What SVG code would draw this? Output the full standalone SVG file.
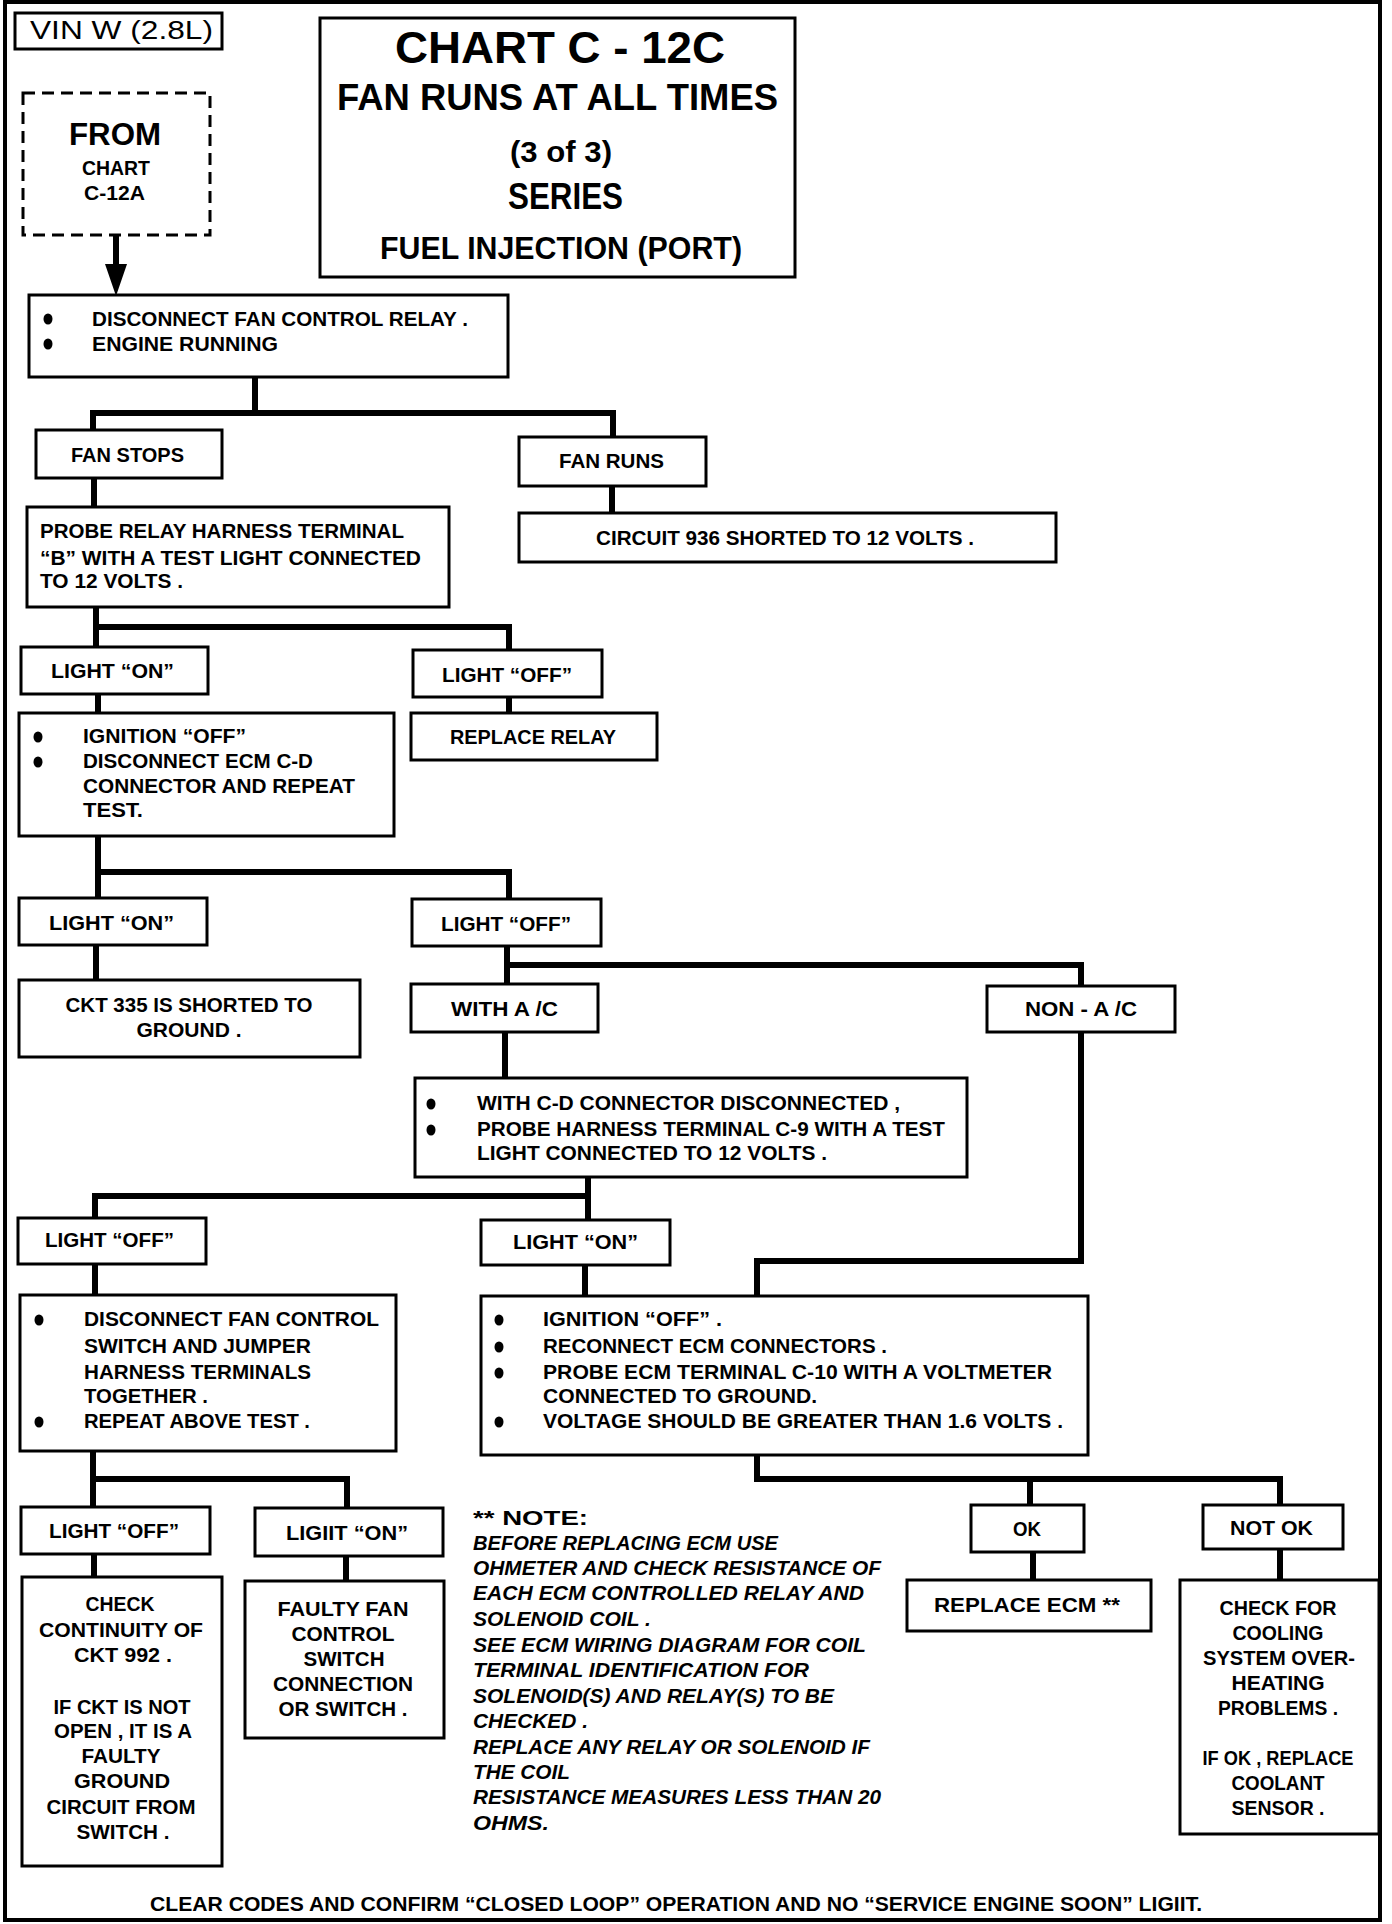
<svg xmlns="http://www.w3.org/2000/svg" width="1392" height="1924" viewBox="0 0 1392 1924">
<style>
.frame{fill:none;stroke:#000;stroke-width:4}
.b{fill:#fff;stroke:#000;stroke-width:3}
.d{fill:#fff;stroke:#000;stroke-width:3;stroke-dasharray:12 7}
.c{fill:none;stroke:#000;stroke-width:6;stroke-linejoin:miter;stroke-linecap:square}
.t{font-family:'Liberation Sans',Arial,sans-serif;font-weight:bold;font-size:21px;fill:#000}
.m{text-anchor:middle}
.i{font-style:italic}
.r{font-family:'Liberation Sans',Arial,sans-serif;font-weight:normal;font-size:26px;fill:#000}
.bul{fill:#000}
</style>
<defs>
<marker id="ah" viewBox="0 0 22 30" refX="11" refY="30" markerWidth="22" markerHeight="30" markerUnits="userSpaceOnUse" orient="auto-start-reverse">
<path d="M0,0 L22,0 L11,30 Z" fill="#000" transform="rotate(0)"/>
</marker>
</defs>
<rect x="0" y="0" width="1392" height="1924" fill="#fff"/>
<rect class="frame" x="5" y="2" width="1375" height="1918"/>

<g id="connectors">
<path class="c" d="M116,236 V266" stroke-linecap="butt"/>
<path d="M105,264 L127,264 L116,296 Z" fill="#000"/>
<path class="c" d="M255,377 V413"/>
<path class="c" d="M93,430 V413 H613 V437"/>
<path class="c" d="M94,478 V507"/>
<path class="c" d="M612,486 V513"/>
<path class="c" d="M96,607 V647"/>
<path class="c" d="M96,627 H509 V650"/>
<path class="c" d="M509,697 V713"/>
<path class="c" d="M98,694 V713"/>
<path class="c" d="M98,836 V898"/>
<path class="c" d="M98,872 H509 V899"/>
<path class="c" d="M96,945 V980"/>
<path class="c" d="M507,946 V984"/>
<path class="c" d="M507,965 H1081 V986"/>
<path class="c" d="M505,1032 V1078"/>
<path class="c" d="M588,1177 V1220"/>
<path class="c" d="M95,1218 V1196 H588"/>
<path class="c" d="M95,1264 V1295"/>
<path class="c" d="M585,1265 V1296"/>
<path class="c" d="M1081,1032 V1261 H757 V1296"/>
<path class="c" d="M93,1451 V1507"/>
<path class="c" d="M93,1479 H347 V1508"/>
<path class="c" d="M94,1554 V1577"/>
<path class="c" d="M346,1556 V1581"/>
<path class="c" d="M757,1455 V1479 H1280 V1505"/>
<path class="c" d="M1030,1479 V1505"/>
<path class="c" d="M1033,1552 V1580"/>
<path class="c" d="M1280,1549 V1580"/>
</g>

<g id="vin">
<rect class="b" x="15" y="13" width="207" height="36"/>
<text class="r" x="30" y="39" textLength="183" lengthAdjust="spacingAndGlyphs">VIN W (2.8L)</text>
</g>

<g id="title">
<rect class="b" x="320" y="18" width="475" height="259"/>
<text class="t" style="font-size:45px" x="395" y="63" textLength="330" lengthAdjust="spacingAndGlyphs">CHART C - 12C</text>
<text class="t" style="font-size:36px" x="337" y="110" textLength="441" lengthAdjust="spacingAndGlyphs">FAN RUNS AT ALL TIMES</text>
<text class="t" style="font-size:30px" x="510" y="162" textLength="102" lengthAdjust="spacingAndGlyphs">(3 of 3)</text>
<text class="t" style="font-size:36px" x="508" y="209" textLength="115" lengthAdjust="spacingAndGlyphs">SERIES</text>
<text class="t" style="font-size:32px" x="380" y="259" textLength="362" lengthAdjust="spacingAndGlyphs">FUEL INJECTION (PORT)</text>
</g>

<g id="from">
<rect class="d" x="23" y="93" width="187" height="142"/>
<text class="t" style="font-size:32px" x="69" y="145" textLength="92" lengthAdjust="spacingAndGlyphs">FROM</text>
<text class="t" x="82" y="175" textLength="68" lengthAdjust="spacingAndGlyphs">CHART</text>
<text class="t" x="84" y="200" textLength="61" lengthAdjust="spacingAndGlyphs">C-12A</text>
</g>

<g id="disconnect-relay">
<rect class="b" x="29" y="295" width="479" height="82"/>
<ellipse class="bul" cx="48" cy="319" rx="4.5" ry="5.5"/>
<ellipse class="bul" cx="48" cy="344" rx="4.5" ry="5.5"/>
<text class="t" x="92" y="326" textLength="376" lengthAdjust="spacingAndGlyphs">DISCONNECT FAN CONTROL RELAY .</text>
<text class="t" x="92" y="351" textLength="186" lengthAdjust="spacingAndGlyphs">ENGINE RUNNING</text>
</g>

<g id="fan-stops">
<rect class="b" x="36" y="430" width="186" height="48"/>
<text class="t" x="71" y="462" textLength="113" lengthAdjust="spacingAndGlyphs">FAN STOPS</text>
</g>

<g id="fan-runs">
<rect class="b" x="519" y="437" width="187" height="49"/>
<text class="t" x="559" y="468" textLength="105" lengthAdjust="spacingAndGlyphs">FAN RUNS</text>
</g>

<g id="probe-relay">
<rect class="b" x="27" y="507" width="422" height="100"/>
<text class="t" x="40" y="538" textLength="364" lengthAdjust="spacingAndGlyphs">PROBE RELAY HARNESS TERMINAL</text>
<text class="t" x="40" y="565" textLength="381" lengthAdjust="spacingAndGlyphs">“B” WITH A TEST LIGHT CONNECTED</text>
<text class="t" x="40" y="588" textLength="143" lengthAdjust="spacingAndGlyphs">TO 12 VOLTS .</text>
</g>

<g id="circuit-936">
<rect class="b" x="519" y="513" width="537" height="49"/>
<text class="t" x="596" y="545" textLength="378" lengthAdjust="spacingAndGlyphs">CIRCUIT 936 SHORTED TO 12 VOLTS .</text>
</g>

<g id="light-on-1">
<rect class="b" x="21" y="647" width="187" height="47"/>
<text class="t" x="51" y="678" textLength="123" lengthAdjust="spacingAndGlyphs">LIGHT “ON”</text>
</g>

<g id="light-off-1">
<rect class="b" x="413" y="650" width="189" height="47"/>
<text class="t" x="442" y="682" textLength="130" lengthAdjust="spacingAndGlyphs">LIGHT “OFF”</text>
</g>

<g id="ignition-off-1">
<rect class="b" x="19" y="713" width="375" height="123"/>
<ellipse class="bul" cx="38" cy="737" rx="4.5" ry="5.5"/>
<ellipse class="bul" cx="38" cy="762" rx="4.5" ry="5.5"/>
<text class="t" x="83" y="743" textLength="163" lengthAdjust="spacingAndGlyphs">IGNITION “OFF”</text>
<text class="t" x="83" y="768" textLength="230" lengthAdjust="spacingAndGlyphs">DISCONNECT ECM C-D</text>
<text class="t" x="83" y="793" textLength="272" lengthAdjust="spacingAndGlyphs">CONNECTOR AND REPEAT</text>
<text class="t" x="83" y="817" textLength="60" lengthAdjust="spacingAndGlyphs">TEST.</text>
</g>

<g id="replace-relay">
<rect class="b" x="411" y="713" width="246" height="47"/>
<text class="t" x="450" y="744" textLength="166" lengthAdjust="spacingAndGlyphs">REPLACE RELAY</text>
</g>

<g id="light-on-2">
<rect class="b" x="19" y="898" width="188" height="47"/>
<text class="t" x="49" y="930" textLength="125" lengthAdjust="spacingAndGlyphs">LIGHT “ON”</text>
</g>

<g id="light-off-2">
<rect class="b" x="412" y="899" width="189" height="47"/>
<text class="t" x="441" y="931" textLength="130" lengthAdjust="spacingAndGlyphs">LIGHT “OFF”</text>
</g>

<g id="ckt-335">
<rect class="b" x="19" y="980" width="341" height="77"/>
<text class="t m" x="189" y="1012" textLength="247" lengthAdjust="spacingAndGlyphs">CKT 335 IS SHORTED TO</text>
<text class="t m" x="189" y="1037" textLength="105" lengthAdjust="spacingAndGlyphs">GROUND .</text>
</g>

<g id="with-ac">
<rect class="b" x="411" y="984" width="187" height="48"/>
<text class="t" x="451" y="1016" textLength="107" lengthAdjust="spacingAndGlyphs">WITH A /C</text>
</g>

<g id="non-ac">
<rect class="b" x="987" y="986" width="188" height="46"/>
<text class="t" x="1025" y="1016" textLength="112" lengthAdjust="spacingAndGlyphs">NON - A /C</text>
</g>

<g id="cd-disconnected">
<rect class="b" x="415" y="1078" width="552" height="99"/>
<ellipse class="bul" cx="431" cy="1104" rx="4.5" ry="5.5"/>
<ellipse class="bul" cx="431" cy="1130" rx="4.5" ry="5.5"/>
<text class="t" x="477" y="1110" textLength="423" lengthAdjust="spacingAndGlyphs">WITH C-D CONNECTOR DISCONNECTED ,</text>
<text class="t" x="477" y="1136" textLength="468" lengthAdjust="spacingAndGlyphs">PROBE HARNESS TERMINAL C-9 WITH A TEST</text>
<text class="t" x="477" y="1160" textLength="350" lengthAdjust="spacingAndGlyphs">LIGHT CONNECTED TO 12 VOLTS .</text>
</g>

<g id="light-off-3">
<rect class="b" x="18" y="1218" width="188" height="46"/>
<text class="t" x="45" y="1247" textLength="129" lengthAdjust="spacingAndGlyphs">LIGHT “OFF”</text>
</g>

<g id="light-on-3">
<rect class="b" x="481" y="1220" width="189" height="45"/>
<text class="t" x="513" y="1249" textLength="125" lengthAdjust="spacingAndGlyphs">LIGHT “ON”</text>
</g>

<g id="disconnect-switch">
<rect class="b" x="20" y="1295" width="376" height="156"/>
<ellipse class="bul" cx="39" cy="1320" rx="4.5" ry="5.5"/>
<ellipse class="bul" cx="39" cy="1422" rx="4.5" ry="5.5"/>
<text class="t" x="84" y="1326" textLength="295" lengthAdjust="spacingAndGlyphs">DISCONNECT FAN CONTROL</text>
<text class="t" x="84" y="1353" textLength="227" lengthAdjust="spacingAndGlyphs">SWITCH AND JUMPER</text>
<text class="t" x="84" y="1379" textLength="227" lengthAdjust="spacingAndGlyphs">HARNESS TERMINALS</text>
<text class="t" x="84" y="1403" textLength="124" lengthAdjust="spacingAndGlyphs">TOGETHER .</text>
<text class="t" x="84" y="1428" textLength="226" lengthAdjust="spacingAndGlyphs">REPEAT ABOVE TEST .</text>
</g>

<g id="ignition-off-2">
<rect class="b" x="481" y="1296" width="607" height="159"/>
<ellipse class="bul" cx="499" cy="1320" rx="4.5" ry="5.5"/>
<ellipse class="bul" cx="499" cy="1347" rx="4.5" ry="5.5"/>
<ellipse class="bul" cx="499" cy="1373" rx="4.5" ry="5.5"/>
<ellipse class="bul" cx="499" cy="1422" rx="4.5" ry="5.5"/>
<text class="t" x="543" y="1326" textLength="179" lengthAdjust="spacingAndGlyphs">IGNITION “OFF” .</text>
<text class="t" x="543" y="1353" textLength="344" lengthAdjust="spacingAndGlyphs">RECONNECT ECM CONNECTORS .</text>
<text class="t" x="543" y="1379" textLength="509" lengthAdjust="spacingAndGlyphs">PROBE ECM TERMINAL C-10 WITH A VOLTMETER</text>
<text class="t" x="543" y="1403" textLength="274" lengthAdjust="spacingAndGlyphs">CONNECTED TO GROUND.</text>
<text class="t" x="543" y="1428" textLength="520" lengthAdjust="spacingAndGlyphs">VOLTAGE SHOULD BE GREATER THAN 1.6 VOLTS .</text>
</g>

<g id="light-off-4">
<rect class="b" x="21" y="1507" width="189" height="47"/>
<text class="t" x="49" y="1538" textLength="130" lengthAdjust="spacingAndGlyphs">LIGHT “OFF”</text>
</g>

<g id="light-on-4">
<rect class="b" x="255" y="1508" width="188" height="48"/>
<text class="t" x="286" y="1540" textLength="122" lengthAdjust="spacingAndGlyphs">LIGIIT “ON”</text>
</g>

<g id="check-continuity">
<rect class="b" x="22" y="1577" width="200" height="289"/>
<text class="t m" x="120" y="1611" textLength="69" lengthAdjust="spacingAndGlyphs">CHECK</text>
<text class="t m" x="121" y="1637" textLength="164" lengthAdjust="spacingAndGlyphs">CONTINUITY OF</text>
<text class="t m" x="123" y="1662" textLength="98" lengthAdjust="spacingAndGlyphs">CKT 992 .</text>
<text class="t m" x="122" y="1714" textLength="137" lengthAdjust="spacingAndGlyphs">IF CKT IS NOT</text>
<text class="t m" x="123" y="1738" textLength="138" lengthAdjust="spacingAndGlyphs">OPEN , IT IS A</text>
<text class="t m" x="121" y="1763" textLength="79" lengthAdjust="spacingAndGlyphs">FAULTY</text>
<text class="t m" x="122" y="1788" textLength="96" lengthAdjust="spacingAndGlyphs">GROUND</text>
<text class="t m" x="121" y="1814" textLength="149" lengthAdjust="spacingAndGlyphs">CIRCUIT FROM</text>
<text class="t m" x="123" y="1839" textLength="93" lengthAdjust="spacingAndGlyphs">SWITCH .</text>
</g>

<g id="faulty-switch">
<rect class="b" x="245" y="1581" width="199" height="157"/>
<text class="t m" x="343" y="1616" textLength="131" lengthAdjust="spacingAndGlyphs">FAULTY FAN</text>
<text class="t m" x="343" y="1641" textLength="103" lengthAdjust="spacingAndGlyphs">CONTROL</text>
<text class="t m" x="344" y="1666" textLength="81" lengthAdjust="spacingAndGlyphs">SWITCH</text>
<text class="t m" x="343" y="1691" textLength="140" lengthAdjust="spacingAndGlyphs">CONNECTION</text>
<text class="t m" x="343" y="1716" textLength="129" lengthAdjust="spacingAndGlyphs">OR SWITCH .</text>
</g>

<g id="note">
<text class="t" x="473" y="1525" textLength="115" lengthAdjust="spacingAndGlyphs">** NOTE:</text>
<text class="t i" x="473" y="1550" textLength="305" lengthAdjust="spacingAndGlyphs">BEFORE REPLACING ECM USE</text>
<text class="t i" x="473" y="1575" textLength="408" lengthAdjust="spacingAndGlyphs">OHMETER AND CHECK RESISTANCE OF</text>
<text class="t i" x="473" y="1600" textLength="391" lengthAdjust="spacingAndGlyphs">EACH ECM CONTROLLED RELAY AND</text>
<text class="t i" x="473" y="1626" textLength="178" lengthAdjust="spacingAndGlyphs">SOLENOID COIL .</text>
<text class="t i" x="473" y="1652" textLength="393" lengthAdjust="spacingAndGlyphs">SEE ECM WIRING DIAGRAM FOR COIL</text>
<text class="t i" x="473" y="1677" textLength="336" lengthAdjust="spacingAndGlyphs">TERMINAL IDENTIFICATION FOR</text>
<text class="t i" x="473" y="1703" textLength="361" lengthAdjust="spacingAndGlyphs">SOLENOID(S) AND RELAY(S) TO BE</text>
<text class="t i" x="473" y="1728" textLength="115" lengthAdjust="spacingAndGlyphs">CHECKED .</text>
<text class="t i" x="473" y="1754" textLength="397" lengthAdjust="spacingAndGlyphs">REPLACE ANY RELAY OR SOLENOID IF</text>
<text class="t i" x="473" y="1779" textLength="97" lengthAdjust="spacingAndGlyphs">THE COIL</text>
<text class="t i" x="473" y="1804" textLength="408" lengthAdjust="spacingAndGlyphs">RESISTANCE MEASURES LESS THAN 20</text>
<text class="t i" x="473" y="1830" textLength="76" lengthAdjust="spacingAndGlyphs">OHMS.</text>
</g>

<g id="ok">
<rect class="b" x="971" y="1505" width="113" height="47"/>
<text class="t" x="1013" y="1536" textLength="28" lengthAdjust="spacingAndGlyphs">OK</text>
</g>

<g id="not-ok">
<rect class="b" x="1203" y="1505" width="140" height="44"/>
<text class="t" x="1230" y="1535" textLength="83" lengthAdjust="spacingAndGlyphs">NOT OK</text>
</g>

<g id="replace-ecm">
<rect class="b" x="907" y="1580" width="244" height="51"/>
<text class="t" x="934" y="1612" textLength="186" lengthAdjust="spacingAndGlyphs">REPLACE ECM **</text>
</g>

<g id="check-cooling">
<rect class="b" x="1180" y="1580" width="199" height="254"/>
<text class="t m" x="1278" y="1615" textLength="117" lengthAdjust="spacingAndGlyphs">CHECK FOR</text>
<text class="t m" x="1278" y="1640" textLength="91" lengthAdjust="spacingAndGlyphs">COOLING</text>
<text class="t m" x="1279" y="1665" textLength="152" lengthAdjust="spacingAndGlyphs">SYSTEM OVER-</text>
<text class="t m" x="1278" y="1690" textLength="93" lengthAdjust="spacingAndGlyphs">HEATING</text>
<text class="t m" x="1278" y="1715" textLength="120" lengthAdjust="spacingAndGlyphs">PROBLEMS .</text>
<text class="t m" x="1278" y="1765" textLength="151" lengthAdjust="spacingAndGlyphs">IF OK , REPLACE</text>
<text class="t m" x="1278" y="1790" textLength="93" lengthAdjust="spacingAndGlyphs">COOLANT</text>
<text class="t m" x="1278" y="1815" textLength="93" lengthAdjust="spacingAndGlyphs">SENSOR .</text>
</g>

<g id="footer">
<text class="t" x="150" y="1911" textLength="1052" lengthAdjust="spacingAndGlyphs">CLEAR CODES AND CONFIRM “CLOSED LOOP” OPERATION AND NO “SERVICE ENGINE SOON” LIGIIT.</text>
</g>
</svg>
